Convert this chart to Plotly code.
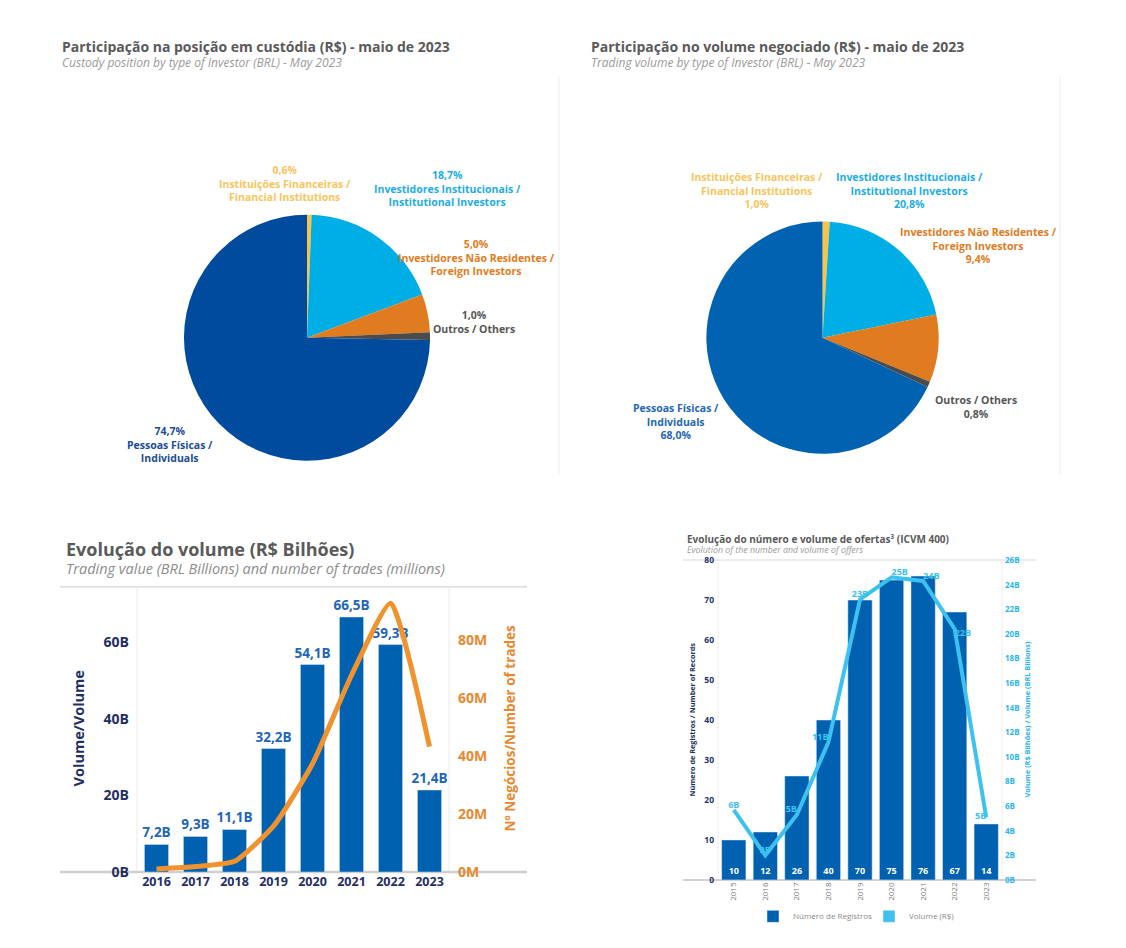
import plotly.graph_objects as go

W, H = 1126, 948


def px(x):
    # pixel -> paper x
    return x / W


def py(y):
    # pixel (from top) -> paper y
    return 1 - y / H


# ---- data ----
investor_types = [
    "Instituições Financeiras /<br>Financial Institutions",
    "Investidores Institucionais /<br>Institutional Investors",
    "Investidores Não Residentes /<br>Foreign Investors",
    "Outros / Others",
    "Pessoas Físicas /<br>Individuals",
]
custody_share = [0.6, 18.7, 5.0, 1.0, 74.7]
trading_share = [1.0, 20.8, 9.4, 0.8, 68.0]

volume_years = ["2016", "2017", "2018", "2019", "2020", "2021", "2022", "2023"]
volume_bn = [7.2, 9.3, 11.1, 32.2, 54.1, 66.5, 59.3, 21.4]
trades_mn = [1.1, 1.9, 3.7, 15.8, 37.3, 67.8, 92.6, 43.2]
volume_ticks = [0, 20, 40, 60]
trades_ticks = [0, 20, 40, 60, 80]

offer_years = ["2015", "2016", "2017", "2018", "2019", "2020", "2021", "2022", "2023"]
records = [10, 12, 26, 40, 70, 75, 76, 67, 14]
offer_volume_bn = [5.7, 2.0, 5.3, 11.2, 22.8, 24.6, 24.3, 20.4, 5.1]
offer_volume_labels = ["6B", "2B", "5B", "11B", "23B", "25B", "24B", "22B", "5B"]
records_ticks = [0, 10, 20, 30, 40, 50, 60, 70, 80]
offer_volume_ticks = [0, 2, 4, 6, 8, 10, 12, 14, 16, 18, 20, 22, 24, 26]

# ---- styles ----
FONT = "Open Sans"
slice_colors_left = ["#FBC343", "#00AEE6", "#E07B1F", "#4B4B4B", "#004B9D"]
slice_colors_right = ["#FBC343", "#00AEE6", "#E07B1F", "#4B4B4B", "#0062B0"]
label_colors_left = ["#F8C55C", "#1DADE4", "#E07C22", "#555555", "#1B4C97"]
label_colors_right = ["#F8C55C", "#1DADE4", "#E07C22", "#555555", "#2467B4"]
NAVY = "#1F2F66"
BAR_BLUE = "#0061B0"
ORANGE = "#F0922E"
LIGHT_BLUE = "#3DC2EF"


def pct(v):
    return f"{v:.1f}".replace(".", ",") + "%"


fig = go.Figure()

# pies
fig.add_trace(go.Pie(
    labels=investor_types, values=custody_share, sort=False, direction="clockwise",
    rotation=0, textinfo="none", hoverinfo="label+percent", showlegend=False,
    marker=dict(colors=slice_colors_left, line=dict(width=0)),
    domain=dict(x=[px(182), px(432)], y=[py(462), py(212)]),
))
fig.add_trace(go.Pie(
    labels=investor_types, values=trading_share, sort=False, direction="clockwise",
    rotation=0, textinfo="none", hoverinfo="label+percent", showlegend=False,
    marker=dict(colors=slice_colors_right, line=dict(width=0)),
    domain=dict(x=[px(704), px(941)], y=[py(455), py(219)]),
))

# bottom left: volume bars + trades line
fig.add_trace(go.Bar(
    x=volume_years, y=volume_bn, marker_color=BAR_BLUE, width=0.62,
    text=[f"{v:.1f}".replace(".", ",") + "B" for v in volume_bn],
    textposition="outside", cliponaxis=False, constraintext="none",
    textfont=dict(family=FONT, size=13.5, color="#2266B8", weight="bold"),
    xaxis="x", yaxis="y", showlegend=False, name="Volume",
))
fig.add_trace(go.Scatter(
    x=volume_years, y=trades_mn, mode="lines",
    line=dict(color=ORANGE, width=5, shape="spline", smoothing=0.5),
    xaxis="x", yaxis="y2", showlegend=False, name="Nº Negócios",
))

# bottom right: records bars + offer volume line
fig.add_trace(go.Bar(
    x=offer_years, y=records, marker_color=BAR_BLUE, width=0.77,
    text=[str(v) for v in records], textposition="inside", insidetextanchor="start",
    textfont=dict(family=FONT, size=9, color="white", weight="bold"),
    xaxis="x2", yaxis="y3", name="Número de Registros",
))
fig.add_trace(go.Scatter(
    x=offer_years, y=offer_volume_bn, mode="lines+text", text=offer_volume_labels,
    textposition=["top center", "top center", "top left", "top left", "top center",
                  "top right", "top right", "bottom right", "middle left"],
    textfont=dict(family=FONT, size=9, color=LIGHT_BLUE, weight="bold"),
    line=dict(color=LIGHT_BLUE, width=4), cliponaxis=False,
    xaxis="x2", yaxis="y4", showlegend=False, name="Volume (R$)",
))
# legend swatch for the line series
fig.add_trace(go.Bar(
    x=[None], y=[None], marker_color=LIGHT_BLUE, name="Volume (R$)",
    xaxis="x2", yaxis="y4",
))

# ---- annotations ----
ann = []


def text(x, y, s, size, color, bold=False, italic=False, anchor="left", angle=0):
    ann.append(dict(
        x=px(x), y=py(y), xref="paper", yref="paper", text=s, showarrow=False,
        xanchor=anchor, yanchor="middle", textangle=angle,
        font=dict(family=FONT, size=size, color=color,
                  weight="bold" if bold else "normal",
                  style="italic" if italic else "normal"),
    ))


text(60, 41, "Participação na posição em custódia (R$) - maio de 2023", 14, "#5A5A5A", bold=True)
text(60, 57, "Custody position by type of Investor (BRL) - May 2023", 12, "#9A9A9A", italic=True)
text(589, 41, "Participação no volume negociado (R$) - maio de 2023", 14, "#5A5A5A", bold=True)
text(589, 57, "Trading volume by type of Investor (BRL) - May 2023", 12, "#9A9A9A", italic=True)

left_label_pos = [(285, 180), (447, 185), (476, 256), (474, 321), (170, 446)]
right_label_pos = [(757, 187), (909, 187), (978, 243), (976, 407), (676, 422)]
for i, name in enumerate(investor_types):
    x, y = left_label_pos[i]
    text(x, y, pct(custody_share[i]) + "<br>" + name, 10.5, label_colors_left[i], bold=True, anchor="center")
    x, y = right_label_pos[i]
    text(x, y, name + "<br>" + pct(trading_share[i]), 10.5, label_colors_right[i], bold=True, anchor="center")

text(64, 552, "Evolução do volume (R$ Bilhões)", 18, "#5A5A5A", bold=True)
text(64, 572, "Trading value (BRL Billions) and number of trades (millions)", 14.5, "#8C8C8C", italic=True)
text(78, 734, "Volume/Volume", 14.5, NAVY, bold=True, anchor="center", angle=-90)
text(510, 734, "Nº Negócios/Number of trades", 13.5, "#E8892F", bold=True, anchor="center", angle=-90)

text(685, 542, "Evolução do número e volume de ofertas³ (ICVM 400)", 10, "#5A5A5A", bold=True)
text(685, 553, "Evolution of the number and volume of offers", 8.8, "#9A9A9A", italic=True)
text(692, 725, "Número de Registros / Number of Records", 7.3, NAVY, bold=True, anchor="center", angle=-90)
text(1027, 725, "Volume (R$ Bilhões) / Volume (BRL Billions)", 7.3, "#2BB5EA", bold=True, anchor="center", angle=-90)

# ---- frame lines ----
shapes = []


def line(x0, y0, x1, y1, color, width):
    shapes.append(dict(type="line", xref="paper", yref="paper",
                       x0=px(x0), y0=py(y0), x1=px(x1), y1=py(y1),
                       line=dict(color=color, width=width), layer="below"))


line(559, 72, 559, 475, "#EBEBEB", 1)
line(1060, 72, 1060, 475, "#E6EAF2", 1)
line(60, 590, 527, 590, "#E2E2E2", 2)
line(137, 590, 137, 880, "#EAEAEA", 1)
line(449, 590, 449, 880, "#EAEAEA", 1)
line(60, 880, 527, 880, "#CFCFCF", 2.5)
line(683, 563, 1036, 563, "#E6E6E6", 1.5)
line(718, 563, 718, 888, "#EEEEEE", 1)
line(1002, 563, 1002, 888, "#EEEEEE", 1)
line(683, 888, 1036, 888, "#D2D2D2", 2)

fig.update_layout(
    width=W, height=H, margin=dict(l=0, r=0, t=0, b=0),
    paper_bgcolor="white", plot_bgcolor="rgba(0,0,0,0)",
    font=dict(family=FONT), barmode="overlay",
    annotations=ann, shapes=shapes,
    xaxis=dict(domain=[px(137), px(449)], anchor="y", type="category",
               showgrid=False, showline=False, zeroline=False, ticks="",
               tickfont=dict(size=12.5, color=NAVY, weight="bold")),
    yaxis=dict(domain=[py(880), py(590)], anchor="x", range=[0, 74.4],
               tickvals=volume_ticks, ticktext=[f"{v}B" for v in volume_ticks],
               showgrid=False, zeroline=False,
               ticklabelstandoff=7, tickfont=dict(size=14, color=NAVY, weight="bold")),
    yaxis2=dict(overlaying="y", side="right", anchor="x", range=[0, 98.3],
                tickvals=trades_ticks, ticktext=[f"{v}M" for v in trades_ticks],
                showgrid=False, zeroline=False,
                ticklabelstandoff=8, tickfont=dict(size=14, color="#E8892F", weight="bold")),
    xaxis2=dict(domain=[px(718), px(1002)], anchor="y3", type="category",
                showgrid=False, showline=False, zeroline=False, ticks="", tickangle=-90,
                tickfont=dict(size=8, color="#7A7A7A")),
    yaxis3=dict(domain=[py(888), py(563)], anchor="x2", range=[0, 80],
                tickvals=records_ticks, showgrid=False, zeroline=False,
                ticklabelstandoff=3, tickfont=dict(size=8.5, color=NAVY, weight="bold")),
    yaxis4=dict(overlaying="y3", side="right", anchor="x2", range=[0, 26],
                tickvals=offer_volume_ticks, ticktext=[f"{v}B" for v in offer_volume_ticks],
                showgrid=False, zeroline=False,
                ticklabelstandoff=2, tickfont=dict(size=8, color="#2BB5EA", weight="bold")),
    legend=dict(orientation="h", x=px(753), y=py(925), xanchor="left", yanchor="middle",
                entrywidth=71, entrywidthmode="pixels", itemwidth=30,
                font=dict(size=8, color="#8A8A8A"), bgcolor="rgba(0,0,0,0)"),
)

# page body margin would otherwise offset the 1126x948 figure inside the window
fig.write_html("out.html", config={"displayModeBar": False},
               post_script="document.body.style.margin='0';")
